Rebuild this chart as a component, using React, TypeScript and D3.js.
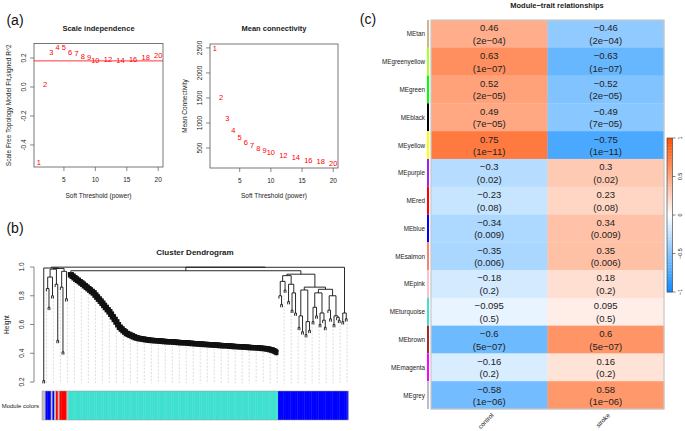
import React from "react";
import * as d3 from "d3";

const font = "'Liberation Sans', Arial, Helvetica, sans-serif";

// (a) soft threshold analysis
const powers = [1, 2, 3, 4, 5, 6, 7, 8, 9, 10, 12, 14, 16, 18, 20];
const fitR2 = [-0.52, 0.02, 0.24, 0.27, 0.27, 0.24, 0.23, 0.21, 0.2, 0.18, 0.19, 0.185, 0.19, 0.2, 0.215];
const meanK = [2480, 1500, 1085, 860, 720, 613, 547, 493, 447, 407, 347, 307, 260, 227, 193];
const r2Cut = 0.18;
const powerTicks = [5, 10, 15, 20];
const r2Ticks = [-0.4, -0.2, 0, 0.2];
const kTicks = [500, 1000, 1500, 2000, 2500];

// (b) dendrogram: node = [mergeHeight, ...children], leaf = []
const L: any[] = [];
const chainHeights = [
  0.955, 0.945, 0.935, 0.925, 0.917, 0.908, 0.898, 0.889, 0.879, 0.869,
  0.859, 0.849, 0.839, 0.829, 0.814, 0.8, 0.786, 0.772, 0.757, 0.742,
  0.728, 0.713, 0.698, 0.681, 0.663, 0.645, 0.627, 0.608, 0.59, 0.578,
  0.567, 0.557, 0.547, 0.541, 0.535, 0.53, 0.524, 0.519, 0.515, 0.512,
  0.51, 0.508, 0.506, 0.504, 0.502, 0.5, 0.499, 0.498, 0.497, 0.496,
  0.495, 0.494, 0.493, 0.492, 0.491, 0.49, 0.489, 0.488, 0.488, 0.487,
  0.486, 0.485, 0.484, 0.483, 0.482, 0.482, 0.481, 0.48, 0.479, 0.478,
  0.477, 0.476, 0.475, 0.474, 0.473, 0.472, 0.471, 0.471, 0.47, 0.469,
  0.468, 0.467, 0.466, 0.466, 0.465, 0.464, 0.463, 0.462, 0.461, 0.461,
  0.46, 0.459, 0.458, 0.457, 0.456, 0.456, 0.455, 0.454, 0.453, 0.452,
  0.452, 0.451, 0.45, 0.449, 0.448, 0.448, 0.447, 0.446, 0.445, 0.444,
  0.443, 0.442, 0.44, 0.438, 0.435, 0.432, 0.428, 0.422, 0.415,
];
const leftGroup = [0.993, [0.21, L, L],
  [0.99,
    [0.985, [0.93, [0.85, L, [0.72, L, L]], [0.8, L, L]], [0.88, L, [0.49, L, L]]],
    [0.97, [0.86, L, [0.41, L, L]], [0.78, L, L]]]];
const blueS1 = [0.94, [0.9, [0.8, L, [0.74, L, L]], [0.84, L, L]], [0.88, [0.76, L, L], [0.82, [0.7, L, L], [0.68, L, L]]]];
const blueS2 = [0.84, [0.66, [0.58, L, L], [0.55, L, L]], [0.62, [0.53, L, L], [0.56, L, L]]];
const blueS3 = [0.82, [0.72, [0.62, L, L], [0.66, L, L]], [0.68, [0.6, L, L], [0.63, L, [0.58, L, L]]]];
const blueS4 = [0.8, [0.7, L, [0.64, L, L]], [0.66, [0.6, L, L], [0.65, L, [0.63, L, L]]]];
const blueGroup = [0.95, blueS1, [0.86, blueS2, [0.845, blueS3, blueS4]]];
const rightTail = [0.68, [0.62, L, L], [0.64, L, L]];
const colorRuns: [string, number][] = [
  ["grey", 2], ["blue", 3], ["grey", 1], ["blue", 1], ["grey", 1], ["red", 1], ["grey", 1],
  ["red", 4], ["grey", 1], ["turquoise", 120], ["blue", 40],
];
const heightTicks = [0.2, 0.4, 0.6, 0.8, 1.0];

// (c) module-trait heatmap
const modules = ["tan", "greenyellow", "green", "black", "yellow", "purple", "red", "blue", "salmon", "pink", "turquoise", "brown", "magenta", "grey"];
const traits = ["control", "stroke"];
const corControl = [0.46, 0.63, 0.52, 0.49, 0.75, -0.3, -0.23, -0.34, -0.35, -0.18, -0.095, -0.6, -0.16, -0.58];
const corStroke = [-0.46, -0.63, -0.52, -0.49, -0.75, 0.3, 0.23, 0.34, 0.35, 0.18, 0.095, 0.6, 0.16, 0.58];
const pValues = ["2e-04", "1e-07", "2e-05", "7e-05", "1e-11", "0.02", "0.08", "0.009", "0.006", "0.2", "0.5", "5e-07", "0.2", "1e-06"];
const legendTicks = [-1, -0.5, 0, 0.5, 1];

const rColors: Record<string, string> = {
  tan: "#D2B48C", greenyellow: "#ADFF2F", green: "#00FF00", black: "#000000", yellow: "#FFFF00",
  purple: "#A020F0", red: "#FF0000", blue: "#0000FF", salmon: "#FA8072", pink: "#FFC0CB",
  turquoise: "#40E0D0", brown: "#A52A2A", magenta: "#FF00FF", grey: "#BEBEBE",
};

const minus = (s: string) => s.replace(/-/g, "\u2212");

// ladder of single genes joining one big module (the turquoise branch)
const chainNodes = new Set<any>();
const buildChain = (hs: number[]) => {
  let node: any[] = [hs[hs.length - 1], L, L];
  chainNodes.add(node);
  for (let k = hs.length - 2; k >= 0; k--) {
    node = [hs[k], L, node];
    chainNodes.add(node);
  }
  return node;
};

const layoutTree = (root: any[], hang: number) => {
  let leafIdx = 0;
  const segs: { x1: number; y1: number; x2: number; y2: number; thick: boolean }[] = [];
  const leaves: { i: number; bottom: number }[] = [];
  const walk = (node: any[]): { x: number; top: number } => {
    const [h, ...kids] = node;
    const thick = chainNodes.has(node);
    const placed = kids.map((k: any[]) => {
      if (k.length === 0) {
        const i = leafIdx++;
        leaves.push({ i, bottom: h - hang });
        return { x: i, top: h - hang };
      }
      return walk(k);
    });
    placed.forEach(p => segs.push({ x1: p.x, y1: h, x2: p.x, y2: p.top, thick }));
    segs.push({ x1: placed[0].x, y1: h, x2: placed[placed.length - 1].x, y2: h, thick });
    return { x: (placed[0].x + placed[placed.length - 1].x) / 2, top: h };
  };
  walk(root);
  return { segs, leaves, n: leafIdx };
};

const addText = (g: any, x: number, y: number, txt: string, size: number, opts: any = {}) =>
  g.append("text")
    .attr("x", x).attr("y", y)
    .attr("font-size", size)
    .attr("text-anchor", opts.anchor || "middle")
    .attr("dominant-baseline", "central")
    .attr("font-weight", opts.bold ? "bold" : "normal")
    .attr("fill", opts.fill || "#222")
    .attr("transform", opts.rotate ? `rotate(${opts.rotate},${x},${y})` : null)
    .text(txt);

const drawScatter = (svg: any, cfg: any) => {
  const g = svg.append("g");
  const x = d3.scaleLinear().domain([0.24, 20.76]).range([cfg.left, cfg.right]);
  const y = d3.scaleLinear().domain(cfg.yDomain).range([cfg.bottom, cfg.top]);
  g.append("rect")
    .attr("x", cfg.left).attr("y", cfg.top)
    .attr("width", cfg.right - cfg.left).attr("height", cfg.bottom - cfg.top)
    .attr("fill", "none").attr("stroke", "#555").attr("stroke-width", 0.8);
  powerTicks.forEach(t => {
    g.append("line").attr("x1", x(t)).attr("x2", x(t)).attr("y1", cfg.bottom).attr("y2", cfg.bottom + 4)
      .attr("stroke", "#555").attr("stroke-width", 0.7);
    addText(g, x(t), cfg.bottom + 12.5, String(t), 6.5);
  });
  cfg.yTicks.forEach((t: number) => {
    g.append("line").attr("x1", cfg.left - 4).attr("x2", cfg.left).attr("y1", y(t)).attr("y2", y(t))
      .attr("stroke", "#555").attr("stroke-width", 0.7);
    addText(g, cfg.left - 10.5, y(t), cfg.fmt(t), 6.5, { rotate: -90 });
  });
  if (cfg.hline != null) {
    g.append("line").attr("x1", cfg.left).attr("x2", cfg.right)
      .attr("y1", y(cfg.hline)).attr("y2", y(cfg.hline))
      .attr("stroke", "#FF0000").attr("stroke-width", 0.8);
  }
  g.selectAll("text.pt").data(powers).join("text")
    .attr("class", "pt")
    .attr("x", (d: number) => x(d)).attr("y", (_: number, i: number) => y(cfg.values[i]))
    .attr("font-size", 7.5).attr("fill", "#FF0000")
    .attr("text-anchor", "middle").attr("dominant-baseline", "central")
    .text((d: number) => d);
  const cx = (cfg.left + cfg.right) / 2;
  addText(g, cx, 28.5, cfg.title, 7.5, { bold: true });
  addText(g, cx, 195, "Soft Threshold (power)", 6.5);
  addText(g, cfg.ylabX, (cfg.top + cfg.bottom) / 2, cfg.ylab, 6.5, { rotate: -90 });
};

const drawDendro = (svg: any) => {
  const g = svg.append("g");
  const root = [0.999, leftGroup, [0.998, [0.974, buildChain(chainHeights), blueGroup], rightTail]];
  const { segs, leaves, n } = layoutTree(root, 0.02);
  const band = d3.scaleBand<number>().domain(d3.range(n)).range([42, 348]);
  const bw = band.bandwidth();
  const x = d3.scaleLinear().domain([0, n - 1]).range([42 + bw / 2, 348 - bw / 2]);
  const y = d3.scaleLinear().domain([0.2, 1]).range([382, 267]);

  addText(g, 195, 252, "Cluster Dendrogram", 8, { bold: true });
  g.append("line").attr("x1", 34).attr("x2", 34).attr("y1", y(1)).attr("y2", y(0.2))
    .attr("stroke", "#555").attr("stroke-width", 0.7);
  heightTicks.forEach(t => {
    g.append("line").attr("x1", 30).attr("x2", 34).attr("y1", y(t)).attr("y2", y(t))
      .attr("stroke", "#555").attr("stroke-width", 0.7);
    addText(g, 21, y(t), t.toFixed(1), 6.5, { rotate: -90 });
  });
  addText(g, 6, (y(1) + y(0.2)) / 2, "Height", 6.5, { rotate: -90 });

  g.selectAll("line.guide").data(leaves.filter(d => d.i % 4 === 2)).join("line")
    .attr("class", "guide")
    .attr("x1", (d: any) => x(d.i)).attr("x2", (d: any) => x(d.i))
    .attr("y1", (d: any) => y(d.bottom) + 2).attr("y2", y(0.19))
    .attr("stroke", "#c4c4c4").attr("stroke-width", 0.6).attr("stroke-dasharray", "2,1.5");

  g.selectAll("line.branch").data(segs).join("line")
    .attr("class", "branch")
    .attr("x1", (d: any) => x(d.x1)).attr("x2", (d: any) => x(d.x2))
    .attr("y1", (d: any) => y(d.y1)).attr("y2", (d: any) => y(d.y2))
    .attr("stroke", "#111")
    .attr("stroke-width", (d: any) => (d.thick ? 2.5 : 0.9))
    .attr("stroke-linecap", (d: any) => (d.thick ? "square" : "butt"));

  const leafColors = colorRuns.flatMap(([c, k]) => Array(k).fill(c));
  g.selectAll("rect.mc").data(leafColors).join("rect")
    .attr("class", "mc")
    .attr("x", (_: string, i: number) => band(i)).attr("width", bw + 0.4)
    .attr("y", 391).attr("height", 29)
    .attr("fill", (d: string) => rColors[d]);
  g.append("rect").attr("x", 42).attr("y", 391).attr("width", 306).attr("height", 29)
    .attr("fill", "none").attr("stroke", "#999").attr("stroke-width", 0.5);
  addText(g, 39, 406, "Module colors", 6, { anchor: "end" });
};

const drawHeatmap = (svg: any) => {
  const g = svg.append("g");
  const hx = d3.scaleBand<string>().domain(traits).range([431, 664]);
  const hy = d3.scaleBand<string>().domain(modules).range([20, 409]);
  const color = d3.scaleLinear<string>().domain([-1, 0, 1]).range(["#0D8CFF", "#FFFFFF", "#FF4D00"]);
  const cells = modules.flatMap((m, i) => [
    { m, t: traits[0], r: corControl[i], p: pValues[i] },
    { m, t: traits[1], r: corStroke[i], p: pValues[i] },
  ]);
  g.selectAll("rect.cell").data(cells).join("rect")
    .attr("class", "cell")
    .attr("x", (d: any) => hx(d.t)).attr("y", (d: any) => hy(d.m))
    .attr("width", hx.bandwidth() + 0.3).attr("height", hy.bandwidth() + 0.3)
    .attr("fill", (d: any) => color(d.r));
  cells.forEach(d => {
    const cx = (hx(d.t) as number) + hx.bandwidth() / 2;
    const cy = (hy(d.m) as number) + hy.bandwidth() / 2;
    addText(g, cx, cy - 6, minus(String(d.r)), 9.5);
    addText(g, cx, cy + 6.5, `(${minus(d.p)})`, 9.5);
  });
  g.append("rect").attr("x", 431).attr("y", 20).attr("width", 233).attr("height", 389)
    .attr("fill", "none").attr("stroke", "#c8c8c8").attr("stroke-width", 1.2);
  modules.forEach(m => {
    const yy = hy(m) as number;
    g.append("rect").attr("x", 427).attr("y", yy).attr("width", 2).attr("height", hy.bandwidth())
      .attr("fill", rColors[m]);
    addText(g, 425, yy + hy.bandwidth() / 2, "ME" + m, 6.3, { anchor: "end" });
  });
  traits.forEach(t => {
    const cx = (hx(t) as number) + hx.bandwidth() / 2;
    addText(g, cx + 3, 414, t, 6.3, { anchor: "end", rotate: -45 });
  });
  addText(g, 557, 5.5, minus("Module-trait relationships"), 7.5, { bold: true });

  // colour key
  const ky = d3.scaleLinear().domain([-1, 1]).range([292, 138]);
  const steps = d3.range(-1, 1, 0.04);
  g.selectAll("rect.key").data(steps).join("rect")
    .attr("class", "key")
    .attr("x", 667).attr("width", 5.5)
    .attr("y", (d: number) => ky(d + 0.04)).attr("height", ky(0) - ky(0.04) + 0.3)
    .attr("fill", (d: number) => color(d + 0.02));
  g.append("rect").attr("x", 667).attr("y", 138).attr("width", 5.5).attr("height", 154)
    .attr("fill", "none").attr("stroke", "#333").attr("stroke-width", 0.6);
  legendTicks.forEach(t => {
    g.append("line").attr("x1", 672.5).attr("x2", 675.5).attr("y1", ky(t)).attr("y2", ky(t))
      .attr("stroke", "#333").attr("stroke-width", 0.6);
    addText(g, 680, ky(t), minus(String(t)), 5.5, { rotate: -90 });
  });
};

const App = () => {
  const ref = React.useRef<SVGSVGElement>(null);
  React.useEffect(() => {
    const svg = d3.select(ref.current);
    svg.selectAll("*").remove();
    chainNodes.clear();
    svg.append("rect").attr("width", 685).attr("height", 431).attr("fill", "#fff");

    addText(svg, 15, 19.5, "(a)", 14, { fill: "#111" });
    addText(svg, 15, 228, "(b)", 14, { fill: "#111" });
    addText(svg, 368, 18.5, "(c)", 14, { fill: "#111" });

    drawScatter(svg, {
      left: 34, right: 163, top: 43.5, bottom: 167,
      yDomain: [-0.552, 0.3], yTicks: r2Ticks, values: fitR2, hline: r2Cut,
      fmt: (t: number) => t.toFixed(1),
      title: "Scale independence", ylab: "Scale Free Topology Model Fit,signed R^2", ylabX: 8,
    });
    drawScatter(svg, {
      left: 210, right: 338, top: 44, bottom: 168,
      yDomain: [101, 2578], yTicks: kTicks, values: meanK, hline: null,
      fmt: (t: number) => String(t),
      title: "Mean connectivity", ylab: "Mean Connectivity", ylabX: 184,
    });
    drawDendro(svg);
    drawHeatmap(svg);
  }, []);
  return (
    <svg ref={ref} width={685} height={431}
      style={{ position: "absolute", left: 0, top: 0, fontFamily: font }} />
  );
};

export default App;
